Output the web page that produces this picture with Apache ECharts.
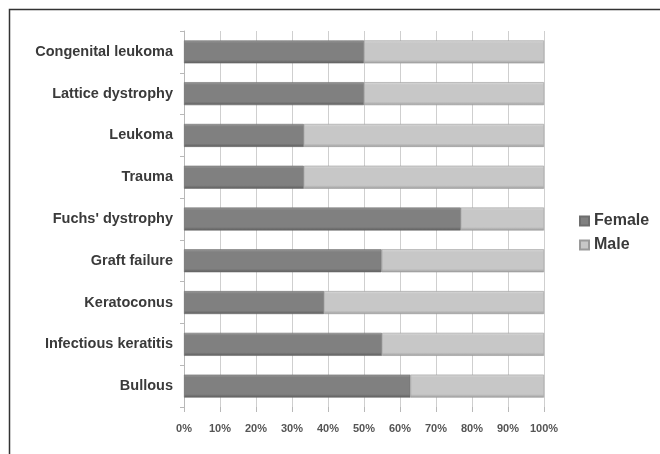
<!DOCTYPE html>
<html>
<head>
<meta charset="utf-8">
<script src="https://cdn.jsdelivr.net/npm/echarts@6/dist/echarts.min.js"></script>
<style>
  html, body { margin: 0; padding: 0; background: #fff; }
  #chart { width: 660px; height: 454px; }
</style>
</head>
<body>
<div id="chart"></div>
<script>
// Indications, listed top to bottom
var categories = [
  'Congenital leukoma', 'Lattice dystrophy', 'Leukoma', 'Trauma',
  "Fuchs' dystrophy", 'Graft failure', 'Keratoconus',
  'Infectious keratitis', 'Bullous'
];
// Share of female patients (%) per indication
var femaleShare = [50, 50, 33.3, 33.3, 76.9, 54.9, 38.9, 55, 62.9];
// Share of male patients (%) per indication
var maleShare = [50, 50, 66.7, 66.7, 23.1, 45.1, 61.1, 45, 37.1];
// Percentage ticks along the horizontal axis
var tickStep = 10;

function bevel(top, mid, bottom) {
  return new echarts.graphic.LinearGradient(0, 0, 0, 1, [
    { offset: 0, color: top },
    { offset: 0.12, color: mid },
    { offset: 0.85, color: mid },
    { offset: 1, color: bottom }
  ]);
}

var chart = echarts.init(document.getElementById('chart'));
var fontFamily = '"Liberation Sans", Arial, sans-serif';

chart.setOption({
  animation: false,
  backgroundColor: '#ffffff',
  grid: { left: 184, right: 116, top: 31, bottom: 47 },
  legend: {
    orient: 'vertical',
    left: 574,
    top: 208,
    itemWidth: 9,
    itemHeight: 9,
    itemGap: 8,
    icon: 'rect',
    textStyle: { fontFamily: fontFamily, fontWeight: 'bold', fontSize: 16, color: '#3a3a3a' },
    data: ['Female', 'Male']
  },
  xAxis: {
    type: 'value',
    min: 0,
    max: 100,
    interval: tickStep,
    axisLine: { show: false },
    axisTick: { show: true, length: 5, lineStyle: { color: '#b8b8b8' } },
    splitLine: { show: true, lineStyle: { color: '#cfcfcf', width: 1 } },
    axisLabel: {
      formatter: '{value}%',
      margin: 16,
      fontFamily: fontFamily,
      fontWeight: 'bold',
      fontSize: 11,
      color: '#555555'
    }
  },
  yAxis: {
    type: 'category',
    inverse: true,
    data: categories,
    axisLine: { show: true, lineStyle: { color: '#b8b8b8' } },
    axisTick: { show: true, length: 4, lineStyle: { color: '#b8b8b8' } },
    axisLabel: {
      margin: 11,
      fontFamily: fontFamily,
      fontWeight: 'bold',
      fontSize: 14.5,
      color: '#3a3a3a'
    }
  },
  series: [
    {
      name: 'Female',
      type: 'bar',
      stack: 'share',
      barWidth: 23,
      data: femaleShare,
      itemStyle: {
        color: bevel('#9a9a9a', '#808080', '#5c5c5c'),
        borderColor: '#6e6e6e',
        borderWidth: 0.6
      }
    },
    {
      name: 'Male',
      type: 'bar',
      stack: 'share',
      barWidth: 23,
      data: maleShare,
      itemStyle: {
        color: bevel('#dadada', '#c7c7c7', '#9e9e9e'),
        borderColor: '#9a9a9a',
        borderWidth: 0.6
      }
    }
  ],
  graphic: [
    {
      type: 'polyline',
      shape: { points: [[9.5, 454], [9.5, 9.5], [660, 9.5]] },
      style: { stroke: '#333333', lineWidth: 1.5, fill: null },
      silent: true
    }
  ]
});
</script>
</body>
</html>
